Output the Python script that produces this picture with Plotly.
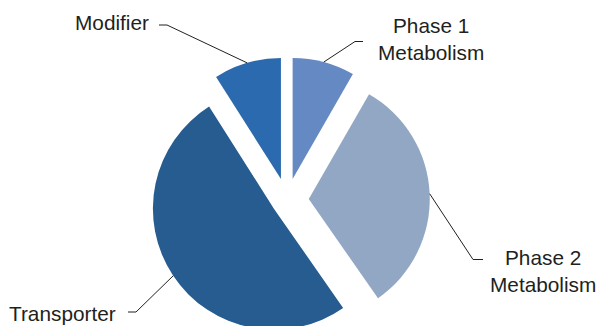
import math
import plotly.graph_objects as go

# ---- data ----
categories = ["Phase 1 Metabolism", "Phase 2 Metabolism", "Transporter", "Modifier"]
label_texts = ["Phase 1<br>Metabolism", "Phase 2<br>Metabolism", "Transporter", "Modifier"]
values = [8.3, 32.0, 50.7, 9.0]

# ---- style ----
colors = ["#6589C2", "#91A7C3", "#265C90", "#2B6AAE"]
pulls = [0.18, 0.18, 0.13, 0.18]
W, H = 599, 360           # figure taller than window; bottom is cropped like the reference
CX, CY, R = 287.0, 200.0, 121.0
TXT = "#231F20"
FONT = "Liberation Sans, Arial, Helvetica, sans-serif"
FS = 20.8

half = R * (1 + max(pulls))
dom_x = [(CX - 230) / W, (CX + 230) / W]
dom_y = [(H - CY - half) / H, (H - CY + half) / H]

fig = go.Figure(go.Pie(
    labels=categories, values=values, sort=False, direction="clockwise", rotation=0,
    pull=pulls, marker=dict(colors=colors, line=dict(width=0)),
    textinfo="none", hoverinfo="label+percent", showlegend=False,
    domain=dict(x=dom_x, y=dom_y),
))

def px(x):
    return x / W

def py(y):
    return 1 - y / H

# arc mid points of each slice computed from the values
total = sum(values)
cum = 0.0
arc_pts = []
for v, p in zip(values, pulls):
    a = math.radians((cum + v / 2) / total * 360)
    cum += v
    d = R * (1 + p)
    arc_pts.append((CX + d * math.sin(a), CY - d * math.cos(a)))

# label placement (pixels): text position, anchor, elbow, dash end
label_layout = [
    dict(tx=431, ty=39, xa="center", elbow=(355, 41.5), dash=(363, 41.5)),
    dict(tx=543, ty=271, xa="center", elbow=(473, 259.5), dash=(483, 259.5)),
    dict(tx=118, ty=313, xa="right", elbow=(136, 312), dash=(128, 312)),
    dict(tx=151, ty=22, xa="right", elbow=(167, 25), dash=(159, 25)),
]

shapes = []
annotations = []
for txt, lay, pt in zip(label_texts, label_layout, arc_pts):
    ex, ey = lay["elbow"]
    dx, dy = lay["dash"]
    shapes.append(dict(type="line", xref="paper", yref="paper",
                       x0=px(pt[0]), y0=py(pt[1]), x1=px(ex), y1=py(ey),
                       line=dict(color=TXT, width=1)))
    shapes.append(dict(type="line", xref="paper", yref="paper",
                       x0=px(ex), y0=py(ey), x1=px(dx), y1=py(dy),
                       line=dict(color=TXT, width=1)))
    annotations.append(dict(text=txt, xref="paper", yref="paper",
                            x=px(lay["tx"]), y=py(lay["ty"]),
                            xanchor=lay["xa"], yanchor="middle", align="center",
                            showarrow=False, font=dict(family=FONT, size=FS, color=TXT)))

fig.update_layout(
    width=W, height=H, margin=dict(l=0, r=0, t=0, b=0),
    paper_bgcolor="white", plot_bgcolor="white",
    shapes=shapes, annotations=annotations,
)

fig.write_html(
    "out.html",
    config={"displayModeBar": False},
    post_script="document.body.style.margin='0';document.body.style.overflow='hidden';"
                "document.documentElement.style.overflow='hidden';",
)
